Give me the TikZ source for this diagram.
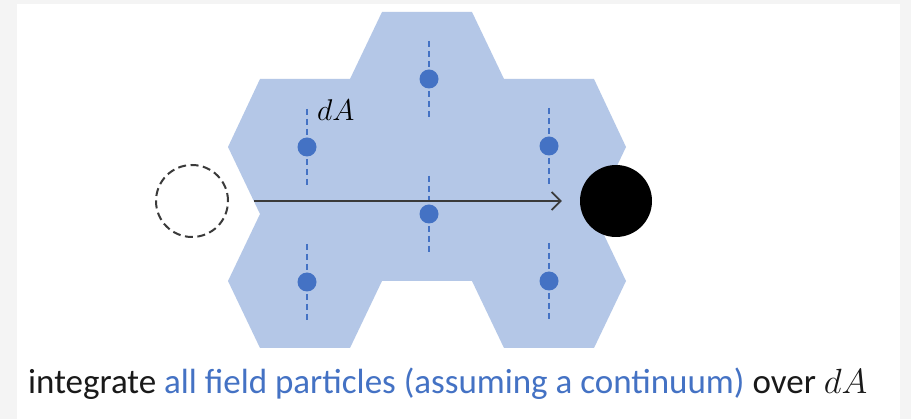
\RequirePackage{fix-cm}
\documentclass[tikz,border=0pt]{standalone}
\usepackage{fontspec}
\setmainfont{Carlito}
\usetikzlibrary{arrows.meta}
\definecolor{hexfill}{HTML}{B4C7E7}
\definecolor{accent}{HTML}{4472C4}
\definecolor{framegray}{HTML}{F4F4F4}
\definecolor{darkline}{HTML}{3A3A3A}
\tikzset{
  particle/.style={circle, fill=accent, inner sep=0pt, minimum size=19pt},
  fieldline/.style={accent, line width=1.8pt, dash pattern=on 6pt off 4pt},
  ghost/.style={circle, draw=darkline, line width=2pt, dash pattern=on 8pt off 4.5pt, minimum size=72pt, inner sep=0pt},
  mass/.style={circle, fill=black, minimum size=72pt, inner sep=0pt},
  motion/.style={-{Straight Barb[length=9pt,width=18pt,line width=1.8pt]}, darkline, line width=1.8pt},
}
\begin{document}
\begin{tikzpicture}[x=1pt,y=-1pt]
\useasboundingbox (0,0) rectangle (911,419);
\fill[framegray] (0,0) rectangle (911,419);
\fill[white] (17,4) rectangle (900,419);
% union of six hexagonal area elements
\fill[hexfill] (382,12) -- (472,12) -- (504,79) -- (594,79) -- (626,147) -- (594,214)
  -- (626,281) -- (594,348) -- (504,348) -- (472,281) -- (382,281) -- (350,348)
  -- (260,348) -- (228,281) -- (260,214) -- (228,147) -- (260,79) -- (350,79) -- cycle;
% field particles
\foreach \n/\x/\y in {p1/307/147, p2/307/282, p3/429/79, p4/429/214, p5/549/146, p6/549/281}{
  \coordinate (\n t) at (\x,\y-38);
  \coordinate (\n b) at (\x,\y+38);
  \draw[fieldline] (\n t) -- (\n b);
  \node[particle] (\n) at (\x,\y) {};
}
\node[anchor=base west, inner sep=0pt, font=\fontsize{30}{34}\selectfont] (dalabel) at (317,121) {$dA$};
% initial (dashed) and final (solid) positions
\node[ghost] (start) at (192,201) {};
\node[mass] (finish) at (616,201) {};
\draw[motion, shorten <=25pt, shorten >=18pt] (start) -- (finish);
% caption
\node[anchor=base west, inner sep=0pt, font=\fontsize{35}{40}\selectfont] (caption) at (28,394)
  {\color{black!90}integrate \textcolor{accent}{all field particles (assuming a continuum)} over $dA$};
\end{tikzpicture}
\end{document}
